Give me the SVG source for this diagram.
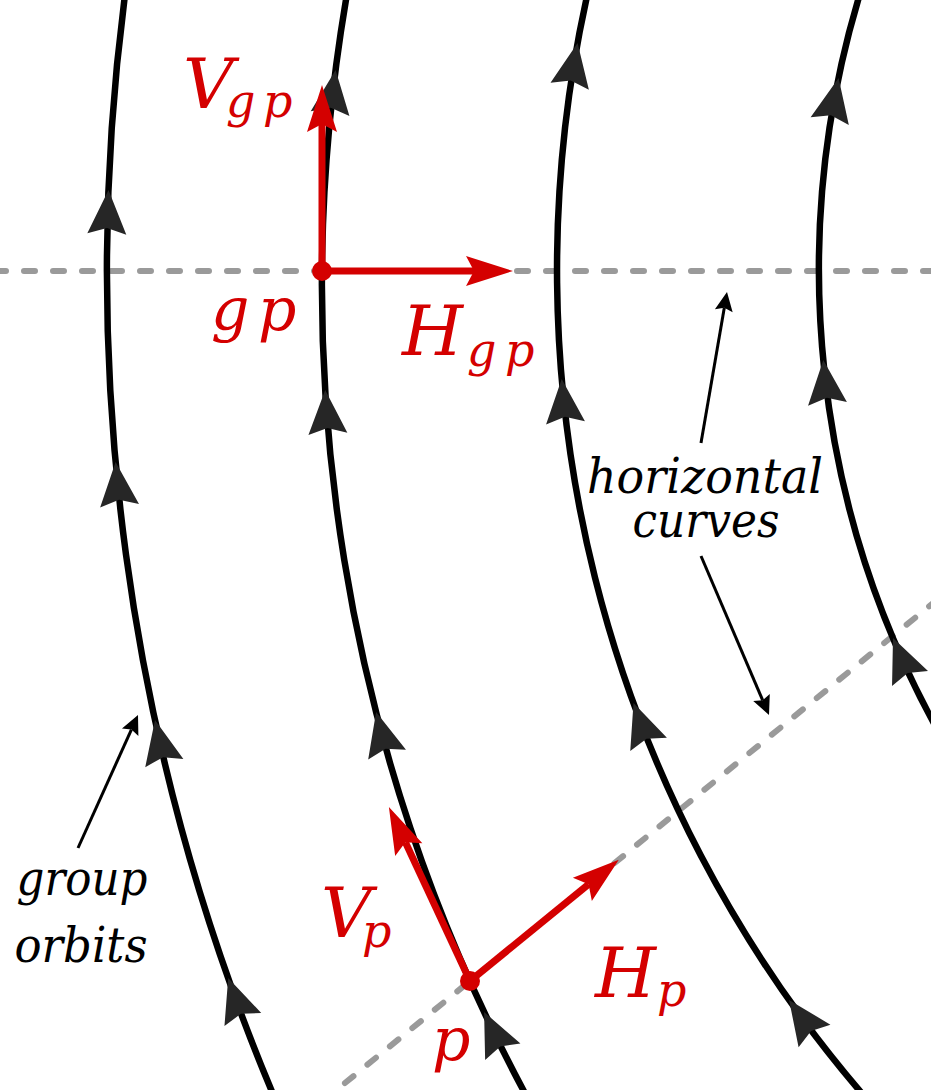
<svg xmlns="http://www.w3.org/2000/svg" xmlns:xlink="http://www.w3.org/1999/xlink" width="931" height="1090" viewBox="0 0 931 1090">
<style>
.orbit{fill:none;stroke:#000;stroke-width:6.5}
.dash{fill:none;stroke:#9a9a9a;stroke-width:6;stroke-dasharray:11 18;stroke-linecap:round}
.vec{fill:none;stroke:#d40000;stroke-width:7}
.redhead{fill:#d40000}
.blkhead{fill:#262626}
.thin{fill:none;stroke:#000;stroke-width:3}
.lbl{font-family:'DejaVu Serif',serif;font-style:italic;font-size:49px;fill:#000;text-anchor:middle}
.math{font-family:'DejaVu Serif',serif;font-style:italic;fill:#d40000}
</style>
<defs>
<path id="ah" d="M0,0 L19.5,44 L0,38 L-19.5,44 Z"/>
<path id="rh" d="M0,0 L15,47 L0,39 L-15,47 Z"/>
<path id="th" d="M0,0 L9,19 L0,16 L-9,19 Z"/>
</defs>
<rect width="931" height="1090" fill="#fff"/>

<g id="horizontal-curves">
<path class="dash" d="M0,271 H931" stroke-dashoffset="5"/>
<path class="dash" d="M300,1119.7 L950,589.3"/>
</g>

<g id="orbit1">
<path class="orbit" d="M125,-5 A2123,2123 0 0 0 273.4,1095"/>
<g class="blkhead">
<use xlink:href="#ah" transform="translate(108.5,190) rotate(2.19)"/>
<use xlink:href="#ah" transform="translate(115.6,462) rotate(-5.16)"/>
<use xlink:href="#ah" transform="translate(155,720) rotate(-12.21)"/>
<use xlink:href="#ah" transform="translate(228.2,978) rotate(-19.45)"/>
</g>
</g>
<g id="orbit2">
<path class="orbit" d="M346.8,-5 A1711,1711 0 0 0 525.9,1095"/>
<g class="blkhead">
<use xlink:href="#ah" transform="translate(335.6,70) rotate(7.22)"/>
<use xlink:href="#ah" transform="translate(325.2,390) rotate(-3.52)"/>
<use xlink:href="#ah" transform="translate(376.1,712) rotate(-14.45)"/>
<use xlink:href="#ah" transform="translate(484.1,1012) rotate(-25.14)"/>
</g>
</g>
<g id="orbit3">
<path class="orbit" d="M587.3,-5 A1264.2,1264.2 0 0 0 863.3,1095"/>
<g class="blkhead">
<use xlink:href="#ah" transform="translate(577.6,43) rotate(10.35)"/>
<use xlink:href="#ah" transform="translate(561.7,379) rotate(-4.95)"/>
<use xlink:href="#ah" transform="translate(633.5,703) rotate(-20.03)"/>
<use xlink:href="#ah" transform="translate(789.1,1000) rotate(-35.27)"/>
</g>
</g>
<g id="orbit4">
<path class="orbit" d="M859.6,-5 A951.5,951.5 0 0 0 940,734.4"/>
<g class="blkhead">
<use xlink:href="#ah" transform="translate(838.6,78) rotate(11.64)"/>
<use xlink:href="#ah" transform="translate(823.3,360) rotate(-5.43)"/>
<use xlink:href="#ah" transform="translate(893,638) rotate(-22.75)"/>
</g>
</g>

<g id="connectors">
<path class="thin" d="M701,443 L724.3,307.8"/>
<use xlink:href="#th" transform="translate(727,292) rotate(9.77)"/>
<path class="thin" d="M701,556 L762.7,700.3"/>
<use xlink:href="#th" transform="translate(769,715) rotate(156.8)"/>
<path class="thin" d="M78,848 L131.4,729.6"/>
<use xlink:href="#th" transform="translate(138,715) rotate(24.3)"/>
</g>

<g id="vectors-gp">
<path class="vec" d="M322,271 V124"/>
<use class="redhead" xlink:href="#rh" transform="translate(322,85)"/>
<path class="vec" d="M322,271 H474"/>
<use class="redhead" xlink:href="#rh" transform="translate(513,271) rotate(90)"/>
<circle class="redhead" cx="322" cy="271" r="10"/>
</g>
<g id="vectors-p">
<path class="vec" d="M470,981 L405.4,842.3"/>
<use class="redhead" xlink:href="#rh" transform="translate(388.9,807) rotate(-25)"/>
<path class="vec" d="M470,981 L588.6,884.3"/>
<use class="redhead" xlink:href="#rh" transform="translate(618.8,859.7) rotate(50.8)"/>
<circle class="redhead" cx="470" cy="981" r="10"/>
</g>

<g id="label-Vgp" class="math">
<text y="108" font-size="70"><tspan x="183">V</tspan><tspan x="226" y="117" font-size="46">g</tspan><tspan x="263" y="117" font-size="46">p</tspan></text>
</g>
<g id="label-gp" class="math">
<text y="330" font-size="60"><tspan x="211">g</tspan><tspan x="258">p</tspan></text>
</g>
<g id="label-Hgp" class="math">
<text y="355" font-size="70"><tspan x="402">H</tspan><tspan x="467" y="366" font-size="46">g</tspan><tspan x="505" y="366" font-size="46">p</tspan></text>
</g>
<g id="label-Vp" class="math">
<text y="937" font-size="70"><tspan x="321">V</tspan><tspan x="362" y="947" font-size="46">p</tspan></text>
</g>
<g id="label-Hp" class="math">
<text y="997" font-size="70"><tspan x="595">H</tspan><tspan x="657" y="1006" font-size="46">p</tspan></text>
</g>
<g id="label-p" class="math">
<text x="432" y="1060" font-size="60">p</text>
</g>
<g id="label-horizontal-curves">
<text class="lbl" x="705" y="493" textLength="236" lengthAdjust="spacingAndGlyphs">horizontal</text>
<text class="lbl" x="706" y="537" textLength="147" lengthAdjust="spacingAndGlyphs">curves</text>
</g>
<g id="label-group-orbits">
<text class="lbl" x="82" y="895" textLength="131" lengthAdjust="spacingAndGlyphs">group</text>
<text class="lbl" x="81" y="962" textLength="133" lengthAdjust="spacingAndGlyphs">orbits</text>
</g>
</svg>
